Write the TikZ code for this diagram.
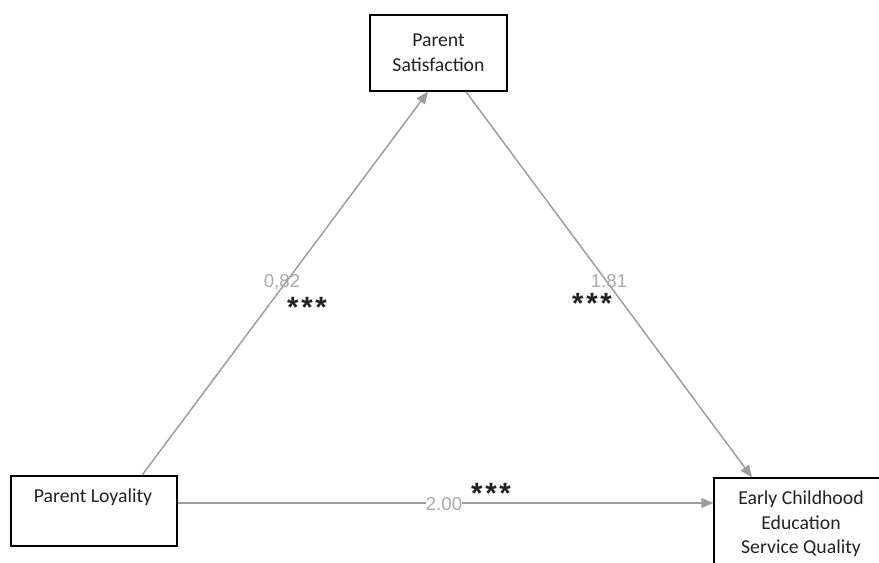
\documentclass[tikz,border=0pt]{standalone}
\usepackage{fontspec}
\setmainfont{Carlito}
\newfontfamily\labfont{Liberation Sans}
\usetikzlibrary{arrows.meta}
\definecolor{linegray}{HTML}{9C9C9C}
\definecolor{labgray}{HTML}{ABABAB}
\definecolor{boxtext}{HTML}{222222}
\tikzset{
  varbox/.style={draw=black, line width=1.1pt, fill=white, inner sep=0pt, text=boxtext, font=\fontsize{14.8pt}{18.5pt}\selectfont, align=center},
  pathline/.style={draw=linegray, line width=1.1pt, -{Triangle[length=9pt,width=7.5pt]}},
  coef/.style={text=labgray, font=\labfont\fontsize{14pt}{16pt}\selectfont, inner sep=0pt},
  sig/.style={text=boxtext, font=\labfont\bfseries\fontsize{22pt}{24pt}\selectfont, inner sep=0pt, anchor=base}
}
\begin{document}
\begin{tikzpicture}[x=0.75pt,y=-0.75pt]
\useasboundingbox (0,0) rectangle (879,563);
\fill[white] (0,0) rectangle (879,563);
\clip (0,0) rectangle (879,563);
% boxes
\node[varbox, minimum width=102.75pt, minimum height=57pt] (sat) at (438.5,53) {Parent\\Satisfaction};
\node[varbox, minimum width=124.5pt, minimum height=52.5pt] (loy) at (94,511) {};
\node[text=boxtext, font=\fontsize{14.8pt}{18.5pt}\selectfont, anchor=center] (loytext) at (93,497) {Parent Loyality};
\node[varbox, minimum width=130.5pt, minimum height=69pt] (ece) at (801,524) {Early Childhood\\Education\\Service Quality};
% paths
\draw[pathline] ([xshift=36pt]loy.north) -- ([xshift=-7.9pt]sat.south);
\draw[pathline] ([xshift=20.6pt]sat.south) -- ([xshift=-36.75pt]ece.north);
\draw[pathline] ([yshift=6pt]loy.east) -- ([yshift=6pt]loy.east -| ece.west);
% coefficients
\node[coef] (c1) at (282,282) {0,82};
\node[coef] (c2) at (609,281) {1.81};
\node[coef, fill=white] (c3) at (444,504) {2.00};
% significance
\node[sig] (s1) at (307,318) {*\kern2pt*\kern2pt*};
\node[sig] (s2) at (592,314) {*\kern2pt*\kern2pt*};
\node[sig] (s3) at (491,503) {*\kern2pt*\kern2pt*};
\end{tikzpicture}
\end{document}
